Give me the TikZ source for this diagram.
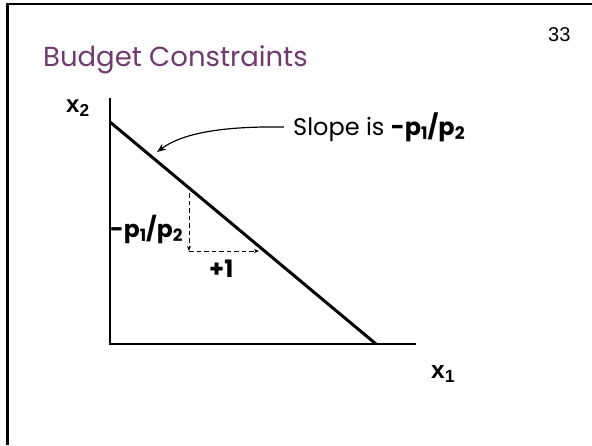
\documentclass[tikz,border=0pt]{standalone}
\usepackage{fontspec}
\setmainfont{Poppins}
\newfontfamily\arialfont{Liberation Sans}
\usetikzlibrary{arrows.meta}
\definecolor{titlepurple}{RGB}{112,58,112}
\newcommand\lsub[1]{\raisebox{-0.32ex}{\scalebox{0.72}{#1}}}
\tikzset{
  frameline/.style={line width=2.5pt, black},
  axisline/.style={line width=1.3pt, black},
  budgetline/.style={line width=3pt, black},
  dashline/.style={dash pattern=on 4.5pt off 3pt, line width=1pt, -{Stealth[length=5pt,width=4pt]}},
  curvearrow/.style={line width=1.2pt, -{Stealth[length=9pt,width=7pt]}},
  lbl/.style={inner sep=0pt, anchor=base west},
}
\begin{document}
\begin{tikzpicture}[x=1pt,y=-1pt]
\useasboundingbox (0,0) rectangle (592,445);
% frame
\draw[frameline] (7.5,445) -- (7.5,4) -- (592,4);
% page number
\node[lbl] (num) at (548,41.5) {\arialfont\fontsize{20}{24}\selectfont 33};
% title
\node[lbl, text=titlepurple] (title) at (43,66) {\fontsize{27.5}{32}\selectfont Budget Constraints};
% axes
\coordinate (ytop) at (110,98);
\coordinate (origin) at (110,344);
\coordinate (xend) at (416,344);
\draw[axisline] (ytop) -- (origin) -- (xend);
% budget line
\coordinate (bl0) at (110,122);
\coordinate (bl1) at (376,344);
\draw[budgetline] (bl0) -- (bl1);
% axis labels
\node[lbl] (x2) at (66,112) {\arialfont\bfseries\fontsize{24}{28}\selectfont x\lsub{2}};
\node[lbl] (x1) at (431,378) {\arialfont\bfseries\fontsize{24.5}{28}\selectfont x\lsub{1}};
% slope triangle
\coordinate (d0) at (189,193);
\coordinate (d1) at (189,251);
\coordinate (d2) at (259,251);
\draw[dashline] (d0) -- (d1);
\draw[dashline] (d1) -- (d2);
\node[lbl] (rise) at (110,237) {\bfseries\fontsize{23.5}{28}\selectfont -p\lsub{1}/p\lsub{2}};
\node[lbl] (run) at (209,277) {\bfseries\fontsize{24}{28}\selectfont +1};
% slope annotation
\node[lbl] (slope) at (293,135) {\fontsize{24}{28}\selectfont Slope is \textbf{-p\lsub{1}/p\lsub{2}}};
\coordinate (cstart) at (284,127);
\coordinate (cend) at (157,152);
\draw[curvearrow] (cstart) .. controls (215,126) and (180,135) .. (cend);
\end{tikzpicture}
\end{document}
